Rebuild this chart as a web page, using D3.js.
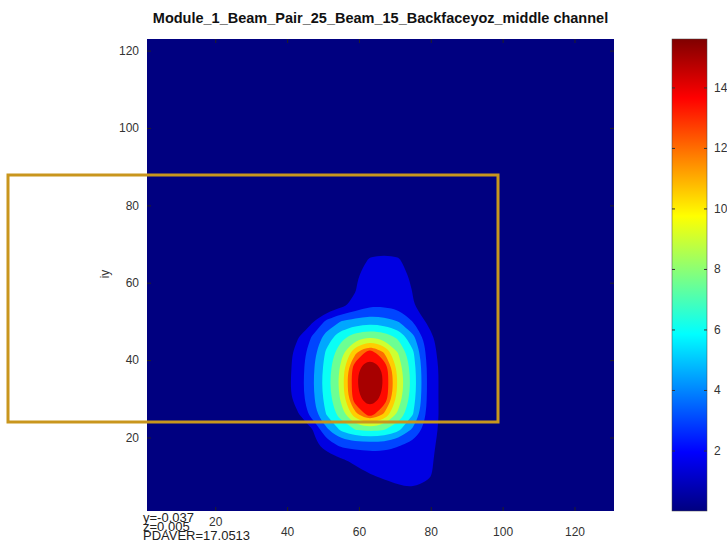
<!DOCTYPE html>
<html>
<head>
<meta charset="utf-8">
<script src="https://cdn.jsdelivr.net/npm/d3@7"></script>
<style>
  body { margin: 0; background: #fff; }
  svg { display: block; font-family: "Liberation Sans", Arial, sans-serif; }
</style>
</head>
<body>
<svg id="chart" width="727" height="545"></svg>
<script>
// ========================
// Data
// ========================
const title = "Module_1_Beam_Pair_25_Beam_15_Backfaceyoz_middle channel";
const xTicks = [20, 40, 60, 80, 100, 120];
const yTicks = [20, 40, 60, 80, 100, 120];
const cbTicks = [2, 4, 6, 8, 10, 12, 14];
const levels = [1.5, 3, 4.5, 6, 7.5, 9, 10.5, 12, 13.5, 15];
const zMax = 15.6;
const infoLines = ["y=-0.037", "z=0.005", "PDAVER=17.0513"];

const gridX = [35, 39, 43, 47, 51, 55, 59, 63, 67, 71, 75, 79, 83, 87];
const gridY = [74, 70, 66, 62, 58, 54, 50, 46, 42, 38, 34, 30, 26, 22, 18, 14, 10, 6, 2];
const gridZ = [
  [0, 0,    0,    0,    0,    0,    0,     0.3,   0.35,  0.3,   0,    0,    0,    0],
  [0, 0,    0,    0,    0,    0,    0.4,   0.9,   1.0,   0.9,   0.4,  0,    0,    0],
  [0, 0,    0,    0,    0,    0.1,  0.9,   1.6,   1.7,   1.6,   0.9,  0.1,  0,    0],
  [0, 0,    0,    0,    0,    0.3,  1.35,  2.0,   2.15,  2.0,   1.25, 0.3,  0,    0],
  [0, 0,    0,    0,    0,    0.5,  1.45,  2.45,  2.5,   2.3,   1.45, 0.5,  0,    0],
  [0, 0,    0,    0,    0.1,  1.2,  1.9,   2.89,  2.8,   2.6,   1.6,  0.75, 0.1,  0],
  [0, 0,    0.25, 1.3,  3.37, 4.53, 5.1,   5.29,  5.12,  4.47,  2.95, 1.3,  0.3,  0],
  [0, 0.3,  1.4,  3.14, 5.17, 7.01, 8.28,  8.9,   8.42,  7.17,  4.89, 2.25, 0.7,  0],
  [0, 0.7,  2.0,  3.83, 6.3,  8.48, 11.6,  14.6,  11.9,  8.9,   6.28, 2.6,  0.9,  0.1],
  [0, 0.75, 2.1,  4.14, 6.68, 9.28, 14.8,  15.58, 14.9,  9.8,   6.75, 2.9,  1.1,  0.2],
  [0, 0.85, 2.17, 4.25, 6.85, 9.55, 14.9,  15.6,  14.95, 10.17, 6.92, 2.95, 1.11, 0.2],
  [0, 0.75, 2.1,  4.11, 6.64, 9.22, 14.7,  15.58, 14.8,  9.73,  6.7,  2.9,  1.1,  0.2],
  [0, 0.3,  1.35, 3.68, 6.12, 8.25, 11.5,  14.5,  11.8,  8.6,   6.08, 2.7,  1.2,  0.2],
  [0, 0,    0.4,  1.4,  4.2,  6.28, 7.49,  7.95,  7.58,  6.35,  4.24, 2.33, 1.2,  0.15],
  [0, 0,    0.1,  1.0,  2.2,  3.3,  3.45,  3.6,   3.55,  3.1,   2.52, 1.9,  1.2,  0.1],
  [0, 0,    0,    0,    0.5,  1.2,  1.8,   2.0,   2.1,   2.1,   2.0,  1.8,  1.1,  0.1],
  [0, 0,    0,    0,    0,    0.4,  0.9,   1.4,   1.65,  1.8,   1.8,  1.65, 1.2,  0],
  [0, 0,    0,    0,    0,    0,    0.3,   0.7,   0.9,   1.25,  1.4,  1.1,  0.5,  0],
  [0, 0,    0,    0,    0,    0,    0,     0.1,   0.3,   0.5,   0.6,  0.4,  0.1,  0]
];

// ========================
// Setup
// ========================
const svg = d3.select("#chart");
const plot = { left: 147, top: 39, right: 614, bottom: 511 };
const cbar = { left: 672, right: 707 };

const x = d3.scaleLinear().domain([1, 131]).range([plot.left, plot.right]);
const y = d3.scaleLinear().domain([1, 123]).range([plot.bottom, plot.top]);
const zScale = d3.scaleLinear().domain([0, zMax]).range([plot.bottom, plot.top]);

// jet colormap
function jet(v) {
  const c = t => Math.max(0, Math.min(1, t));
  return d3.rgb(
    255 * c(1.5 - Math.abs(4 * v - 3)),
    255 * c(1.5 - Math.abs(4 * v - 2)),
    255 * c(1.5 - Math.abs(4 * v - 1))
  ).formatHex();
}

// Title
svg.append("text")
  .attr("x", (plot.left + plot.right) / 2)
  .attr("y", 23)
  .attr("text-anchor", "middle")
  .style("font-size", "14.5px")
  .style("font-weight", "bold")
  .style("fill", "#111")
  .text(title);

// clip for plot area
svg.append("clipPath").attr("id", "plotClip")
  .append("rect")
  .attr("x", plot.left).attr("y", plot.top)
  .attr("width", plot.right - plot.left).attr("height", plot.bottom - plot.top);

const g = svg.append("g").attr("clip-path", "url(#plotClip)");

// lowest band
g.append("rect")
  .attr("x", plot.left).attr("y", plot.top)
  .attr("width", plot.right - plot.left).attr("height", plot.bottom - plot.top)
  .attr("fill", jet(0));

// filled contours
const nx = gridX.length, ny = gridY.length;
const stepX = gridX[1] - gridX[0];
const stepY = gridY[0] - gridY[1];

const contours = d3.contours()
  .size([nx, ny])
  .thresholds(levels)(gridZ.flat());

const ringLine = d3.line()
  .x(p => x(gridX[0] + (p[0] - 0.5) * stepX))
  .y(p => y(gridY[0] - (p[1] - 0.5) * stepY))
  .curve(d3.curveBasisClosed);

g.selectAll("path.band")
  .data(contours)
  .enter()
  .append("path")
  .attr("class", "band")
  .attr("fill", d => jet(d.value / zMax))
  .attr("d", d => d.coordinates
    .map(poly => poly.map(ring => ringLine(ring.slice(0, -1))).join(""))
    .join(""));

// axes (ticks pointing inward)
const tickColor = "#222";
const xAxis = svg.append("g")
  .attr("transform", `translate(0,${plot.bottom})`)
  .call(d3.axisBottom(x).tickValues(xTicks).tickSize(-4).tickPadding(16));
xAxis.select(".domain").remove();
xAxis.selectAll("line").attr("stroke", tickColor);
xAxis.selectAll("text")
  .style("font-size", "12px")
  .style("fill", "#333")
  .attr("dy", d => d === 20 ? "-0.1em" : "0.71em");

const yAxis = svg.append("g")
  .attr("transform", `translate(${plot.left},0)`)
  .call(d3.axisLeft(y).tickValues(yTicks).tickSize(-4).tickPadding(8));
yAxis.select(".domain").remove();
yAxis.selectAll("line").attr("stroke", tickColor);
yAxis.selectAll("text").style("font-size", "12px").style("fill", "#333");

const topAxis = svg.append("g")
  .attr("transform", `translate(0,${plot.top})`)
  .call(d3.axisTop(x).tickValues(xTicks).tickSize(-4).tickFormat(""));
topAxis.select(".domain").remove();
topAxis.selectAll("line").attr("stroke", tickColor);

const rightAxis = svg.append("g")
  .attr("transform", `translate(${plot.right},0)`)
  .call(d3.axisRight(y).tickValues(yTicks).tickSize(-4).tickFormat(""));
rightAxis.select(".domain").remove();
rightAxis.selectAll("line").attr("stroke", tickColor);

// y label
svg.append("text")
  .attr("transform", "translate(109,274) rotate(-90)")
  .attr("text-anchor", "middle")
  .style("font-size", "12px")
  .style("fill", "#333")
  .text("iy");

// info text bottom-left
svg.selectAll("text.info")
  .data(infoLines)
  .enter()
  .append("text")
  .attr("class", "info")
  .attr("x", 143)
  .attr("y", (d, i) => 521.5 + i * 9.2)
  .style("font-size", "13px")
  .style("fill", "#222")
  .text(d => d);

// ========================
// Colorbar
// ========================
const grad = svg.append("defs").append("linearGradient")
  .attr("id", "jetGrad")
  .attr("x1", 0).attr("y1", 1).attr("x2", 0).attr("y2", 0);
d3.range(0, 1.0001, 0.0625).forEach(t => {
  grad.append("stop").attr("offset", t).attr("stop-color", jet(t));
});

svg.append("rect")
  .attr("x", cbar.left).attr("y", plot.top)
  .attr("width", cbar.right - cbar.left).attr("height", plot.bottom - plot.top)
  .attr("fill", "url(#jetGrad)")
  .attr("stroke", "#444").attr("stroke-width", 0.5);

const cbLeft = svg.append("g")
  .attr("transform", `translate(${cbar.left},0)`)
  .call(d3.axisLeft(zScale).tickValues(cbTicks).tickSize(-3).tickFormat(""));
cbLeft.select(".domain").remove();
cbLeft.selectAll("line").attr("stroke", "#333");

const cbRight = svg.append("g")
  .attr("transform", `translate(${cbar.right},0)`)
  .call(d3.axisRight(zScale).tickValues(cbTicks).tickSize(-3).tickPadding(7));
cbRight.select(".domain").remove();
cbRight.selectAll("line").attr("stroke", "#333");
cbRight.selectAll("text").style("font-size", "12px").style("fill", "#333");

// highlight box drawn over the figure
svg.append("rect")
  .attr("x", 8).attr("y", 175)
  .attr("width", 490).attr("height", 247)
  .attr("fill", "none")
  .attr("stroke", "#c9961d")
  .attr("stroke-width", 3);
</script>
</body>
</html>
